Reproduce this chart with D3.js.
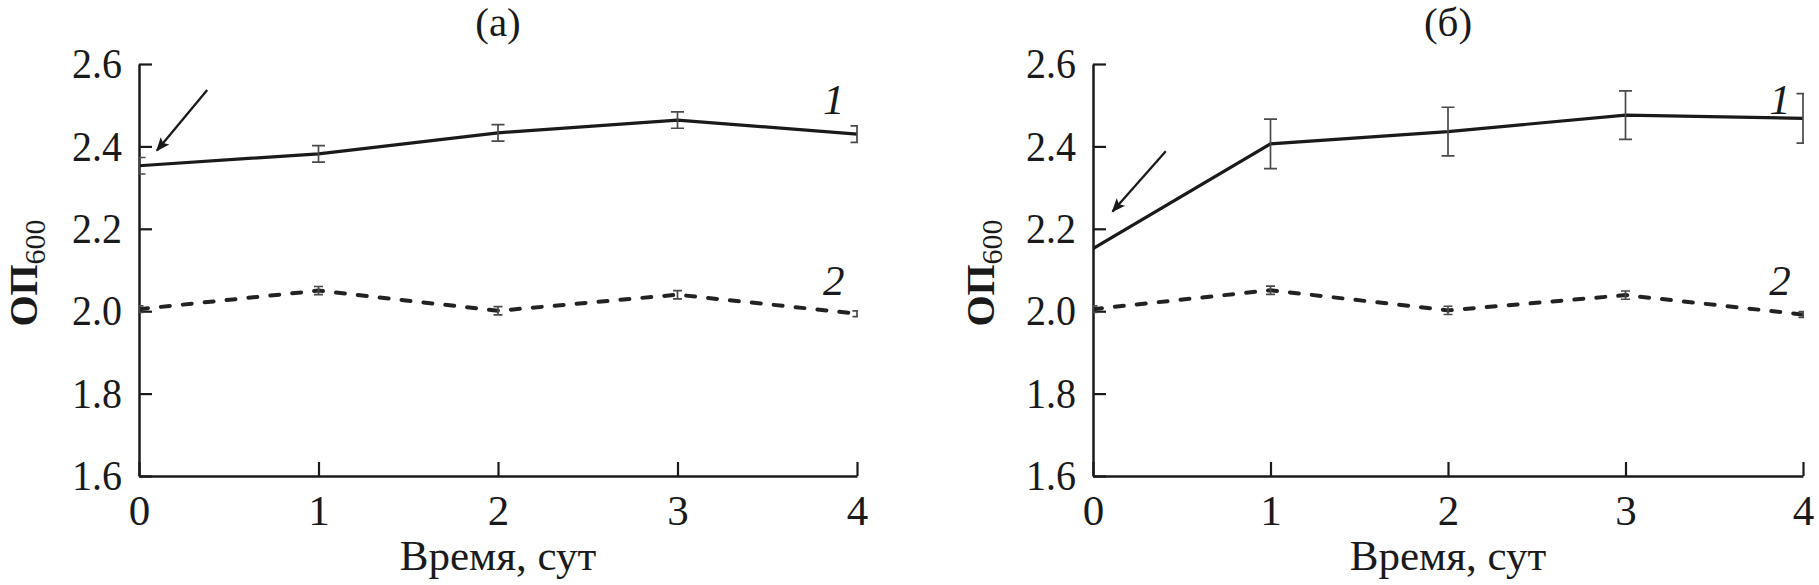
<!DOCTYPE html>
<html lang="ru">
<head>
    <meta charset="UTF-8">
    <title>ОП600 — время, сут</title>
    <script src="https://cdnjs.cloudflare.com/ajax/libs/d3/7.8.5/d3.min.js"></script>
    <style>
        body {
            margin: 0;
            background: #fff;
        }
        svg {
            display: block;
            font-family: "Liberation Serif", "Times New Roman", serif;
        }
    </style>
</head>
<body>
    <div id="chart"></div>

    <script>
        // days on x axis
        const days = [0, 1, 2, 3, 4];
        const yTicks = [1.6, 1.8, 2.0, 2.2, 2.4, 2.6];

        // panel (а)
        const odA1 = [2.353, 2.382, 2.433, 2.464, 2.430];
        const errA1 = [0.02, 0.02, 0.02, 0.02, 0.02];
        const odA2 = [2.005, 2.050, 2.001, 2.040, 1.994];
        const errA2 = [0.008, 0.01, 0.01, 0.01, 0.007];

        // panel (б)
        const odB1 = [2.152, 2.406, 2.436, 2.476, 2.468];
        const errB1 = [0, 0.06, 0.059, 0.059, 0.06];
        const odB2 = [2.005, 2.051, 2.002, 2.039, 1.992];
        const errB2 = [0.008, 0.01, 0.01, 0.01, 0.007];

        // arrows: [day, OD] of tail and tip
        const arrowA = [[0.38, 2.537], [0.10, 2.39]];
        const arrowB = [[0.41, 2.388], [0.11, 2.242]];

        const width = 1819, height = 585;
        const ink = "#1a1a1a";
        const fs = 43;

        const svg = d3.select("#chart").append("svg")
            .attr("width", width)
            .attr("height", height);

        svg.append("defs").append("marker")
            .attr("id", "head")
            .attr("viewBox", "0 -5 10 10")
            .attr("refX", 9)
            .attr("refY", 0)
            .attr("markerUnits", "userSpaceOnUse")
            .attr("markerWidth", 18)
            .attr("markerHeight", 14)
            .attr("orient", "auto")
            .append("path")
            .attr("d", "M0,-4L10,0L0,4L2,0Z")
            .attr("fill", ink);

        const panels = [
            { id: "a", title: "(а)", x0: 139, x1: 857, yLab: 37,
              s1: odA1, e1: errA1, s2: odA2, e2: errA2, arrow: arrowA },
            { id: "b", title: "(б)", x0: 1093, x1: 1803, yLab: 994,
              s1: odB1, e1: errB1, s2: odB2, e2: errB2, arrow: arrowB }
        ];

        const yTop = 64, yBot = 476;

        panels.forEach(p => {
            const x = d3.scaleLinear().domain([0, 4]).range([p.x0, p.x1]);
            const y = d3.scaleLinear().domain([1.6, 2.6]).range([yBot, yTop]);
            const g = svg.append("g");

            // clip so caps at the edges are cut like in the original
            svg.select("defs").append("clipPath")
                .attr("id", "clip-" + p.id)
                .append("rect")
                .attr("x", p.x0)
                .attr("y", 0)
                .attr("width", p.x1 - p.x0 + 1)
                .attr("height", height);

            // axes, ticks pointing inward
            const ya = g.append("g")
                .attr("transform", `translate(${p.x0},0)`)
                .call(d3.axisLeft(y).tickValues(yTicks).tickFormat(d3.format(".1f"))
                    .tickSize(-13).tickSizeOuter(0).tickPadding(17));
            const xa = g.append("g")
                .attr("transform", `translate(0,${yBot})`)
                .call(d3.axisBottom(x).tickValues(days).tickFormat(d3.format("d"))
                    .tickSize(-14).tickSizeOuter(0).tickPadding(18.5));

            [ya, xa].forEach(a => {
                a.attr("font-family", null).attr("font-size", fs);
                a.select(".domain").attr("stroke", ink).attr("stroke-width", 2.5);
                a.selectAll(".tick line").attr("stroke", ink).attr("stroke-width", 2.2);
                a.selectAll(".tick text").attr("fill", ink);
            });
            // the original digits are a little narrower
            ya.selectAll(".tick text").each(function () {
                const w = this.getComputedTextLength();
                d3.select(this).attr("textLength", w * 0.93).attr("lengthAdjust", "spacingAndGlyphs");
            });

            const line = d3.line()
                .x((d, i) => x(days[i]))
                .y(d => y(d));

            const plot = g.append("g").attr("clip-path", `url(#clip-${p.id})`);

            const drawErr = (vals, errs, cap) => {
                const eg = plot.append("g")
                    .attr("stroke", "#4a4a4a")
                    .attr("stroke-width", 1.7)
                    .attr("fill", "none");
                vals.forEach((v, i) => {
                    if (!errs[i]) return;
                    const cx = x(days[i]);
                    const t = y(v + errs[i]), b = y(v - errs[i]);
                    eg.append("path")
                        .attr("d", `M${cx},${t}V${b}M${cx - cap},${t}H${cx + cap}M${cx - cap},${b}H${cx + cap}`);
                });
            };

            plot.append("path")
                .attr("d", line(p.s2))
                .attr("fill", "none")
                .attr("stroke", "#222")
                .attr("stroke-width", 4)
                .attr("stroke-linecap", "round")
                .attr("stroke-dasharray", "9,13");
            drawErr(p.s2, p.e2, 4.5);

            plot.append("path")
                .attr("d", line(p.s1))
                .attr("fill", "none")
                .attr("stroke", ink)
                .attr("stroke-width", 3.2);
            drawErr(p.s1, p.e1, 6.5);

            // curve numbers
            g.append("text")
                .attr("x", x(3.87))
                .attr("y", 114)
                .attr("text-anchor", "middle")
                .attr("font-style", "italic")
                .attr("font-size", fs)
                .attr("fill", ink)
                .text("1");
            g.append("text")
                .attr("x", x(3.87))
                .attr("y", 295)
                .attr("text-anchor", "middle")
                .attr("font-style", "italic")
                .attr("font-size", fs)
                .attr("fill", ink)
                .text("2");

            // arrow to the starting value
            g.append("line")
                .attr("x1", x(p.arrow[0][0]))
                .attr("y1", y(p.arrow[0][1]))
                .attr("x2", x(p.arrow[1][0]))
                .attr("y2", y(p.arrow[1][1]))
                .attr("stroke", ink)
                .attr("stroke-width", 2.3)
                .attr("marker-end", "url(#head)");

            // panel title
            g.append("text")
                .attr("x", (p.x0 + p.x1) / 2)
                .attr("y", 36)
                .attr("text-anchor", "middle")
                .attr("font-size", 41)
                .attr("fill", ink)
                .text(p.title);

            // x axis title
            g.append("text")
                .attr("x", (p.x0 + p.x1) / 2)
                .attr("y", 570)
                .attr("text-anchor", "middle")
                .attr("font-size", fs)
                .attr("fill", ink)
                .text("Время, сут");

            // y axis title
            const yt = g.append("text")
                .attr("transform", `translate(${p.yLab},273) rotate(-90)`)
                .attr("text-anchor", "middle")
                .attr("fill", ink);
            yt.append("tspan")
                .attr("font-size", 40)
                .attr("font-weight", "bold")
                .text("ОП");
            yt.append("tspan")
                .attr("font-size", 30)
                .attr("dy", 8)
                .text("600");
        });
    </script>
</body>
</html>
